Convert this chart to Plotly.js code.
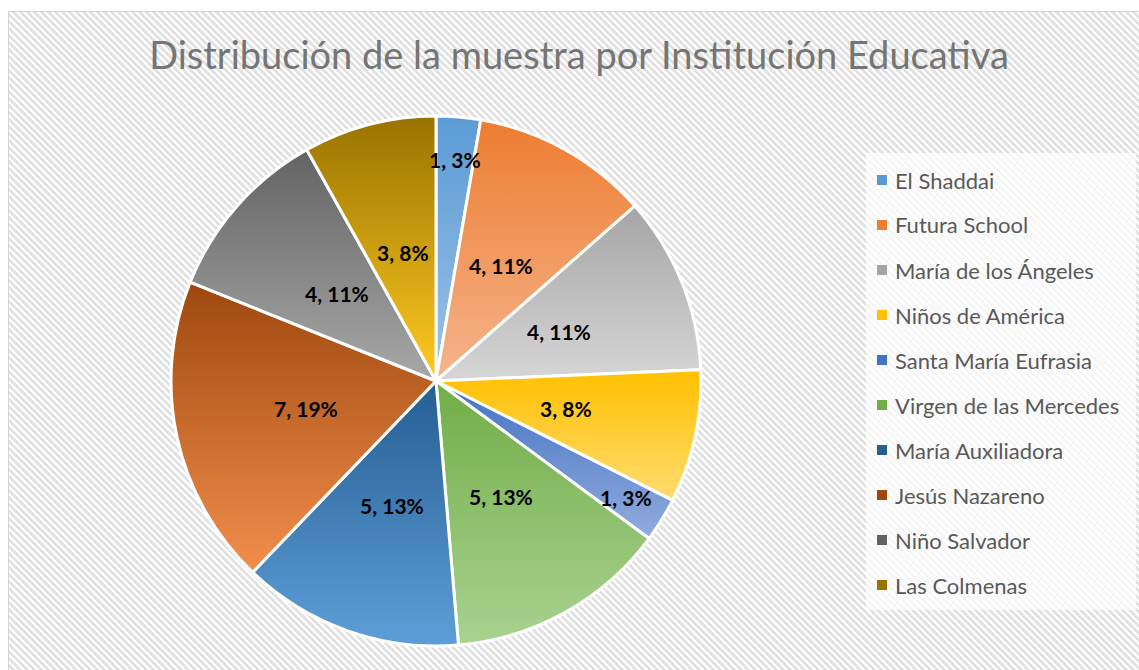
<!DOCTYPE html>
<html>
<head>
<meta charset="utf-8">
<script src="https://cdn.plot.ly/plotly-3.0.1.min.js"></script>
<style>
  html, body { margin: 0; padding: 0; background: #ffffff; }
  #bg {
    position: absolute; left: 8px; top: 11px; width: 1131px; height: 659px;
    border-top: 1px solid #d4d4d4; border-left: 1px solid #d4d4d4;
    background: repeating-linear-gradient(45deg, #ffffff 0px, #ffffff 2.5px, #e2e2e2 2.5px, #e2e2e2 4.95px);
  }
  #chart { position: absolute; left: 0; top: 0; width: 1139px; height: 670px; }
</style>
</head>
<body>
<div id="bg"></div>
<div id="chart"></div>
<script>
// ---- data ----
const labels = ["El Shaddai", "Futura School", "María de los Ángeles", "Niños de América",
  "Santa María Eufrasia", "Virgen de las Mercedes", "María Auxiliadora", "Jesús Nazareno",
  "Niño Salvador", "Las Colmenas"];
const values = [1, 4, 4, 3, 1, 5, 5, 7, 4, 3];
const percentLabels = [3, 11, 11, 8, 3, 13, 13, 19, 11, 8];
const topColors = ["#5B9BD5", "#ED7D31", "#A5A5A5", "#FFC000", "#4472C4", "#70AD47",
  "#255E91", "#9E480E", "#636363", "#997300"];
const bottomColors = ["#9CC2E6", "#F5B48C", "#D6D6D6", "#FFDC70", "#92ACDD", "#AAD290",
  "#5E9ED8", "#F28E4C", "#A8A8A8", "#FFCA22"];
const titleText = "Distribución de la muestra por Institución Educativa";

// ---- layout helpers (pixel -> paper) ----
const W = 1139, H = 670;
const px = x => x / W, py = y => 1 - y / H;
const cx = 436, cy = 381, R = 265;

const total = values.reduce((a, b) => a + b, 0);
const annotations = [];
const shapes = [];

// data labels
let cum = 0;
values.forEach((v, i) => {
  const mid = (cum + v / 2) / total * 2 * Math.PI;
  cum += v;
  const frac = v <= 1 ? 0.84 : 0.5;
  const x = cx + R * frac * Math.sin(mid);
  const y = cy - R * frac * Math.cos(mid);
  annotations.push({
    xref: 'paper', yref: 'paper', x: px(x), y: py(y), showarrow: false,
    text: '<b>' + v + ', ' + percentLabels[i] + '%</b>',
    font: { family: 'Lato, "Open Sans", sans-serif', size: 21, color: '#000000' },
    xanchor: 'center', yanchor: 'middle'
  });
});

// legend box
shapes.push({ type: 'rect', xref: 'paper', yref: 'paper', x0: px(866), x1: px(1136), y0: py(153), y1: py(610),
  fillcolor: 'rgba(255,255,255,0.7)', line: { width: 0 }, layer: 'below' });
labels.forEach((lab, i) => {
  const y = 180 + i * 45;
  shapes.push({ type: 'rect', xref: 'paper', yref: 'paper', x0: px(877), x1: px(887), y0: py(y - 5), y1: py(y + 5),
    fillcolor: topColors[i], line: { width: 0 } });
  annotations.push({
    xref: 'paper', yref: 'paper', x: px(893), y: py(y), showarrow: false, text: lab,
    font: { family: 'Lato, "Open Sans", sans-serif', size: 22, color: '#595959' },
    xanchor: 'left', yanchor: 'middle'
  });
});

const trace = {
  type: 'pie', labels: labels, values: values, sort: false, direction: 'clockwise', rotation: 0,
  marker: { colors: topColors, line: { color: '#ffffff', width: 3 } },
  textinfo: 'none', hoverinfo: 'label+value+percent', showlegend: false,
  domain: { x: [px(cx - R), px(cx + R)], y: [py(cy + R), py(cy - R)] }
};

const layout = {
  width: W, height: H, margin: { l: 0, r: 0, t: 0, b: 0 },
  paper_bgcolor: 'rgba(0,0,0,0)', plot_bgcolor: 'rgba(0,0,0,0)',
  title: { text: titleText, x: px(579), xanchor: 'center', y: py(56), yanchor: 'middle',
    font: { family: 'Lato, "Open Sans", sans-serif', size: 38, color: '#757575' } },
  showlegend: false, annotations: annotations, shapes: shapes
};

Plotly.newPlot('chart', [trace], layout, { displayModeBar: false, staticPlot: true }).then(gd => {
  const svg = gd.querySelector('svg.main-svg');
  let defs = svg.querySelector('defs');
  if (!defs) { defs = document.createElementNS('http://www.w3.org/2000/svg', 'defs'); svg.insertBefore(defs, svg.firstChild); }
  const paths = gd.querySelectorAll('g.slice path.surface');
  paths.forEach((p, i) => {
    const g = document.createElementNS('http://www.w3.org/2000/svg', 'linearGradient');
    g.setAttribute('id', 'slicegrad' + i);
    g.setAttribute('x1', '0'); g.setAttribute('y1', '0'); g.setAttribute('x2', '0'); g.setAttribute('y2', '1');
    [[0, topColors[i]], [1, bottomColors[i]]].forEach(([o, c]) => {
      const s = document.createElementNS('http://www.w3.org/2000/svg', 'stop');
      s.setAttribute('offset', o); s.setAttribute('stop-color', c);
      g.appendChild(s);
    });
    defs.appendChild(g);
    p.style.fill = 'url(#slicegrad' + i + ')';
  });
});
</script>
</body>
</html>
